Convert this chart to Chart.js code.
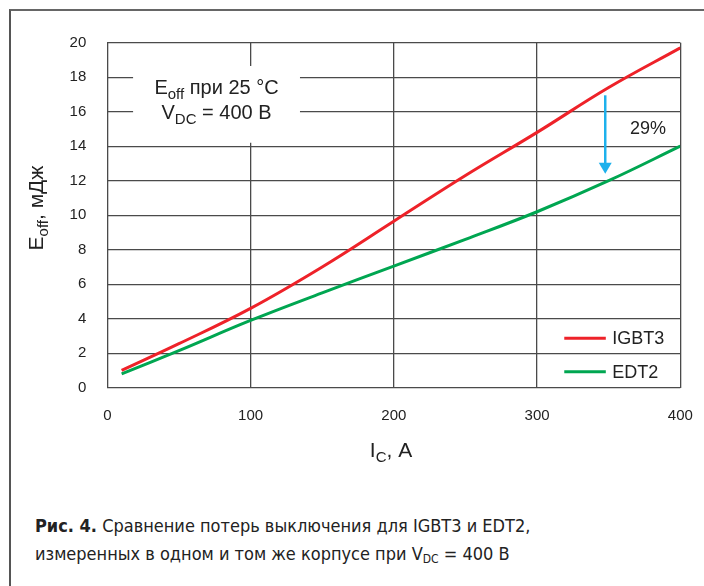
<!DOCTYPE html>
<html>
<head>
<meta charset="utf-8">
<script src="https://cdn.jsdelivr.net/npm/chart.js@4"></script>
<style>
  html, body { margin: 0; padding: 0; background: #fff; }
  #page { position: relative; width: 704px; height: 586px; overflow: hidden; }
  #frame { position: absolute; left: 9px; top: 9px; width: 700px; height: 590px;
           border-top: 2px solid #666; border-left: 2px solid #555; }
  #chart { position: absolute; left: 0; top: 0; }
  #caption { position: absolute; left: 35px; top: 512px; color: #222;
             font-family: "Liberation Sans Narrow", "DejaVu Sans Condensed", "Liberation Sans", sans-serif;
             font-size: 18px; line-height: 28px; }
  #caption b { font-weight: bold; }
  #caption sub { font-size: 12px; vertical-align: -3px; line-height: 0; }
</style>
</head>
<body>
<div id="page">
  <div id="frame"></div>
  <canvas id="chart" width="704" height="480"></canvas>
  <div id="caption"><b>Рис. 4.</b> Сравнение потерь выключения для IGBT3 и EDT2,<br>измеренных в одном и том же корпусе при V<sub>DC</sub> = 400 В</div>
</div>
<script>
// DATA
const currents = [10, 50, 100, 150, 200, 250, 300, 350, 400];   // I_C, A
const igbt3 = [1.0, 2.55, 4.6, 7.0, 9.65, 12.3, 14.8, 17.4, 19.7]; // mJ
const edt2 = [0.8, 2.15, 3.9, 5.5, 7.05, 8.6, 10.2, 12.0, 14.0];   // mJ
const seriesNames = ['IGBT3', 'EDT2'];
const seriesColors = ['#ee2229', '#00a651'];
const xTicks = [0, 100, 200, 300, 400];
const yTicks = [0, 2, 4, 6, 8, 10, 12, 14, 16, 18, 20];
// arrow from IGBT3 down to EDT2 at ~348 A, label 29%
const arrowX = 347.6, arrowFrom = 16.95, arrowTo = 12.4;
const reductionLabel = '29%';

const FONT = '"Liberation Sans", Arial, sans-serif';

function toPoints(ys) {
    return currents.map((x, i) => ({x: x, y: ys[i]}));
}

// text with a subscript part: parts = [[text, isSub], ...]
function partsWidth(ctx, parts, size, subSize) {
    let w = 0;
    parts.forEach(p => {
        ctx.font = (p[1] ? subSize : size) + 'px ' + FONT;
        w += ctx.measureText(p[0]).width;
    });
    return w;
}
function drawParts(ctx, parts, x, y, size, subSize, subShift) {
    parts.forEach(p => {
        ctx.font = (p[1] ? subSize : size) + 'px ' + FONT;
        ctx.fillText(p[0], x, p[1] ? y + subShift : y);
        x += ctx.measureText(p[0]).width;
    });
}

const extras = {
    id: 'extras',
    beforeDatasetsDraw(chart) {
        const ctx = chart.ctx, xs = chart.scales.x, ys = chart.scales.y;
        // white box behind the note
        const l = xs.getPixelForValue(18), r = xs.getPixelForValue(134.5);
        const t = ys.getPixelForValue(18.65), b = ys.getPixelForValue(14.2);
        ctx.save();
        ctx.fillStyle = '#fff';
        ctx.fillRect(l, t, r - l, b - t);
        ctx.fillStyle = '#222';
        ctx.textBaseline = 'alphabetic';
        const cx = (l + r) / 2;
        const line1 = [['E', false], ['off', true], [' при 25 °C', false]];
        const line2 = [['V', false], ['DC', true], [' = 400 В', false]];
        let w = partsWidth(ctx, line1, 20, 15);
        drawParts(ctx, line1, cx - w / 2, ys.getPixelForValue(17.05), 20, 15, 5);
        w = partsWidth(ctx, line2, 20, 15);
        drawParts(ctx, line2, cx - w / 2, ys.getPixelForValue(15.6), 20, 15, 5);
        ctx.restore();
    },
    afterDatasetsDraw(chart) {
        const ctx = chart.ctx, xs = chart.scales.x, ys = chart.scales.y;
        ctx.save();
        // arrow
        const ax = xs.getPixelForValue(arrowX);
        const ay1 = ys.getPixelForValue(arrowFrom), ay2 = ys.getPixelForValue(arrowTo);
        ctx.strokeStyle = '#1db1ec';
        ctx.fillStyle = '#1db1ec';
        ctx.lineWidth = 2.5;
        ctx.beginPath();
        ctx.moveTo(ax, ay1);
        ctx.lineTo(ax, ay2 - 9);
        ctx.stroke();
        ctx.beginPath();
        ctx.moveTo(ax - 6.5, ay2 - 11);
        ctx.lineTo(ax + 6.5, ay2 - 11);
        ctx.lineTo(ax, ay2);
        ctx.closePath();
        ctx.fill();
        // 29 % label
        ctx.fillStyle = '#222';
        ctx.font = '18px ' + FONT;
        ctx.textAlign = 'center';
        ctx.textBaseline = 'middle';
        ctx.fillText(reductionLabel, xs.getPixelForValue(377.5), ys.getPixelForValue(15.0));
        // legend
        ctx.textAlign = 'left';
        ctx.lineWidth = 3;
        [2.87, 0.93].forEach((yv, i) => {
            const py = ys.getPixelForValue(yv);
            ctx.strokeStyle = seriesColors[i];
            ctx.beginPath();
            ctx.moveTo(xs.getPixelForValue(319), py);
            ctx.lineTo(xs.getPixelForValue(348), py);
            ctx.stroke();
            ctx.fillStyle = '#222';
            ctx.fillText(seriesNames[i], xs.getPixelForValue(352.5), py + 1);
        });
        // axis titles
        ctx.fillStyle = '#222';
        ctx.textAlign = 'left';
        ctx.textBaseline = 'alphabetic';
        const xt = [['I', false], ['C', true], [', A', false]];
        let w = partsWidth(ctx, xt, 21, 15);
        drawParts(ctx, xt, 391 - w / 2, 457, 21, 15, 5);
        ctx.translate(43, 208);
        ctx.rotate(-Math.PI / 2);
        const yt = [['E', false], ['off', true], [', мДж', false]];
        w = partsWidth(ctx, yt, 21, 15);
        drawParts(ctx, yt, -w / 2, 0, 21, 15, 5);
        ctx.restore();
    }
};

new Chart(document.getElementById('chart'), {
    type: 'line',
    data: {
        datasets: [
            {label: seriesNames[0], data: toPoints(igbt3), borderColor: seriesColors[0]},
            {label: seriesNames[1], data: toPoints(edt2), borderColor: seriesColors[1]}
        ]
    },
    options: {
        responsive: false,
        animation: false,
        devicePixelRatio: 1,
        layout: {padding: {left: 0, top: 42.7, right: 23.7, bottom: 52.3}},
        elements: {
            line: {borderWidth: 3, tension: 0.4, fill: false},
            point: {radius: 0}
        },
        plugins: {legend: {display: false}, tooltip: {enabled: false}},
        scales: {
            x: {
                type: 'linear', min: 0, max: 400,
                afterBuildTicks: s => { s.ticks = xTicks.map(v => ({value: v})); },
                afterFit: s => { s.height = 40; s.paddingLeft = 0; s.paddingRight = 0; },
                grid: {color: '#4a4a4a', lineWidth: 1.3, drawTicks: false},
                border: {display: false},
                ticks: {color: '#222', font: {size: 15, family: FONT}, padding: 19, maxRotation: 0}
            },
            y: {
                min: 0, max: 20,
                afterBuildTicks: s => { s.ticks = yTicks.map(v => ({value: v})); },
                afterFit: s => { s.width = 107.3; },
                grid: {color: '#4a4a4a', lineWidth: 1.3, drawTicks: false},
                border: {display: false},
                ticks: {color: '#222', font: {size: 15, family: FONT}, padding: 21}
            }
        }
    },
    plugins: [extras]
});
</script>
</body>
</html>
